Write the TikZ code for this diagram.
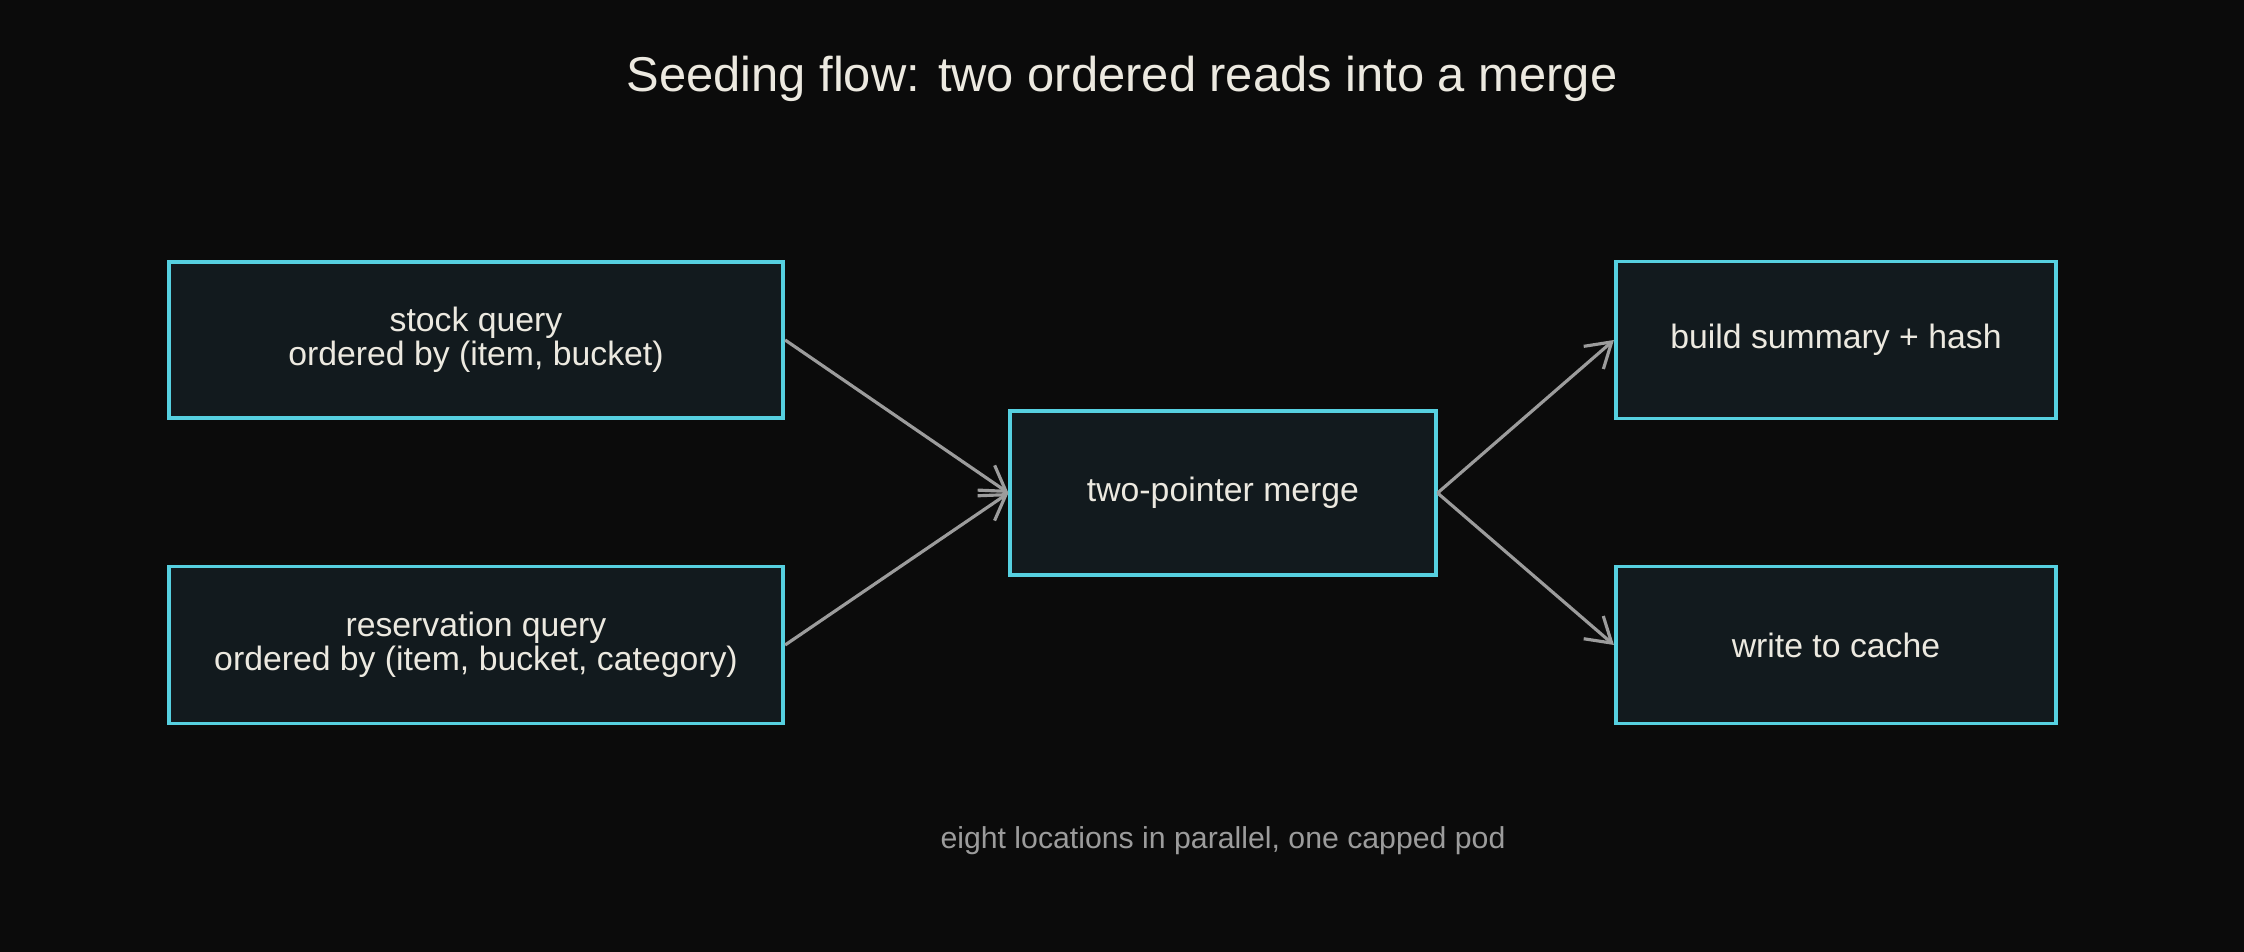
\documentclass[tikz,border=0pt]{standalone}
\usepackage{fontspec}
\setmainfont{Liberation Sans}
\usetikzlibrary{arrows.meta}

\definecolor{bgdark}{HTML}{0B0B0B}
\definecolor{boxfill}{HTML}{121A1E}
\definecolor{boxline}{HTML}{56D0E0}
\definecolor{inkwhite}{HTML}{ECE9E0}
\definecolor{arrowgray}{HTML}{9C9C9C}

\begin{document}
\begin{tikzpicture}[x=0.01cm, y=-0.01cm]
\tikzset{
  stage/.style={draw=boxline, fill=boxfill, line width=1.1pt, text=inkwhite, align=center, inner sep=0pt, font=\fontsize{9.6}{9.8}\selectfont},
  flow/.style={draw=arrowgray, line width=0.9pt, -{Straight Barb[length=2.4mm, width=3mm]}},
  heading/.style={text=inkwhite, font=\fontsize{13.9}{16}\selectfont},
  footnote/.style={text=arrowgray, font=\fontsize{8.6}{10}\selectfont}
}
\fill[bgdark] (0,0) rectangle (2244,952);
\node[heading] (title) at (1122,79) {Seeding flow: two ordered reads into a merge};
% reads
\node[stage, minimum width=6.14cm, minimum height=1.56cm] (stock) at (476,340) {stock query\\ordered by (item, bucket)};
\node[stage, minimum width=6.14cm, minimum height=1.57cm] (resv) at (476,645) {reservation query\\ordered by (item, bucket, category)};
% merge
\node[stage, minimum width=4.25cm, minimum height=1.64cm] (merge) at (1223,493) {two-pointer merge};
% outputs
\node[stage, minimum width=4.40cm, minimum height=1.57cm] (build) at (1836,340) {build summary + hash};
\node[stage, minimum width=4.40cm, minimum height=1.57cm] (cache) at (1836,645) {write to cache};
\draw[flow] (stock.east) -- (merge.west);
\draw[flow] (resv.east) -- (merge.west);
\draw[flow] (merge.east) -- (build.west);
\draw[flow] (merge.east) -- (cache.west);
\node[footnote] (note) at (1223,841) {eight locations in parallel, one capped pod};
\end{tikzpicture}
\end{document}
